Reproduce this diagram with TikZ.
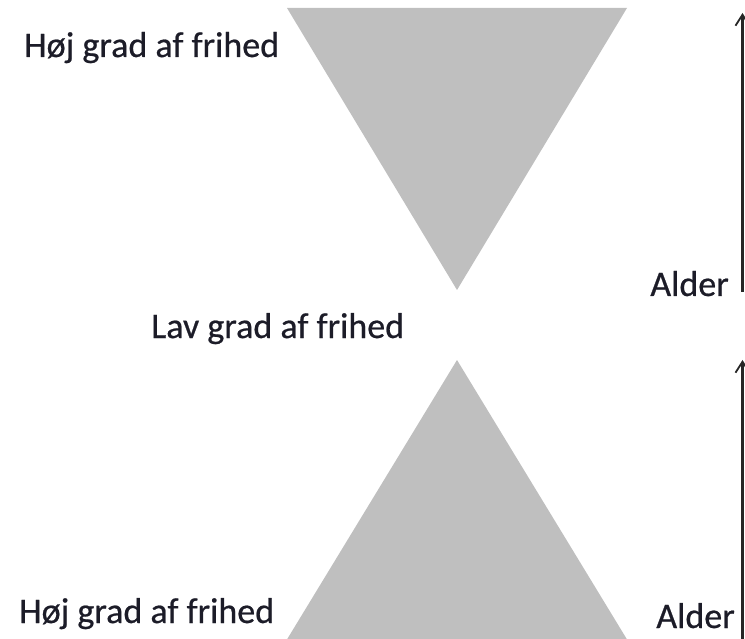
\documentclass[tikz,border=0pt]{standalone}
\usepackage{fontspec}
\setmainfont{Carlito}
\newfontfamily\lblfont{Carlito}[FakeBold=0.6]
\usetikzlibrary{arrows.meta}
\definecolor{trigray}{HTML}{BFBFBF}
\definecolor{txt}{HTML}{1C1C28}
\begin{document}
\begin{tikzpicture}[x=1pt,y=-1pt,
  tri/.style={fill=trigray,draw=none},
  lbl/.style={font=\lblfont\fontsize{36}{40}\selectfont,text=txt,inner sep=0pt},
  axis/.style={draw=black!85,line width=2.2pt,-{Straight Barb[length=11pt,width=14pt,line width=1.8pt]}}]
\useasboundingbox (0,0) rectangle (745,639);
\begin{scope}
\clip (0,0) rectangle (745,639);
\fill[tri] (287,8) -- (627,8) -- (457,290) -- cycle;
\fill[tri] (457,360) -- (631,646) -- (283,646) -- cycle;
\coordinate (a1s) at (742.5,292);
\coordinate (a1e) at (742.5,13);
\coordinate (a2s) at (742.5,645);
\coordinate (a2e) at (742.5,360);
\draw[axis] (a1s) -- (a1e);
\draw[axis] (a2s) -- (a2e);
\end{scope}
\node[lbl,anchor=base west] (h1) at (24,57) {Høj grad af frihed};
\node[lbl,anchor=base west] (lav) at (151,338) {Lav grad af frihed};
\node[lbl,anchor=base west] (h2) at (19,623) {Høj grad af frihed};
\node[lbl,anchor=base east] (al1) at (729,296) {Alder};
\node[lbl,anchor=base east] (al2) at (735,628) {Alder};
\end{tikzpicture}
\end{document}
